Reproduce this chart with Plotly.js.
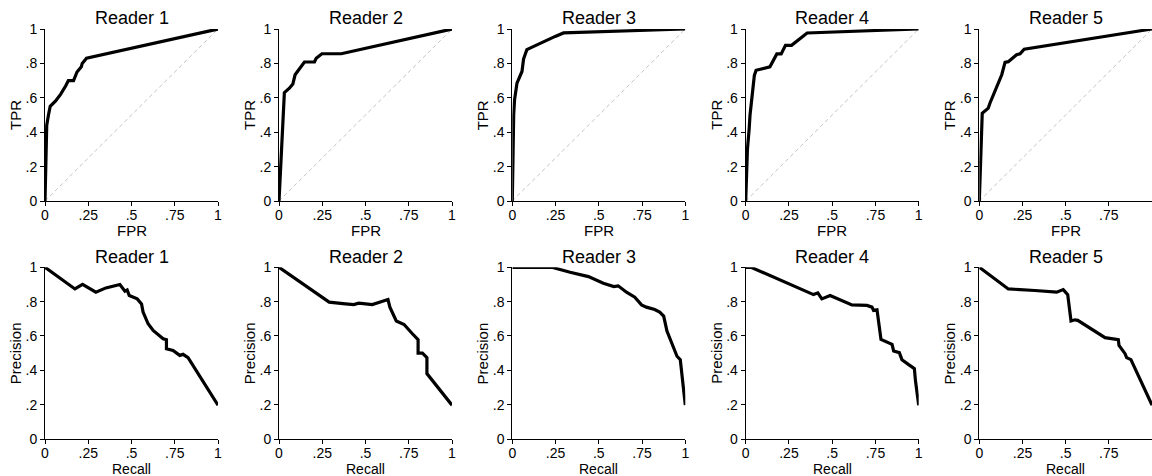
<!DOCTYPE html>
<html>
<head>
<meta charset="utf-8">
<script src="https://cdn.plot.ly/plotly-3.0.1.min.js"></script>
<style>
html,body{margin:0;padding:0;background:#fff;}
#chart{width:1152px;height:476px;}
</style>
</head>
<body>
<div id="chart"></div>
<script>
// ---- Data ----
const readers = ["Reader 1", "Reader 2", "Reader 3", "Reader 4", "Reader 5"];
const xTickVals = [0, 0.25, 0.5, 0.75, 1];
const xTickText = ["0", ".25", ".5", ".75", "1"];
const yTickVals = [0, 0.2, 0.4, 0.6, 0.8, 1];
const yTickText = ["0", ".2", ".4", ".6", ".8", "1"];
const diagX = [0, 1];
const diagY = [0, 1];

// ROC curves (FPR, TPR)
const roc1x = [0, 0.004, 0.006, 0.01, 0.02, 0.03, 0.06, 0.09, 0.12, 0.135, 0.165, 0.185, 0.21, 0.215, 0.24, 1];
const roc1y = [0, 0.2, 0.42, 0.44, 0.5, 0.55, 0.58, 0.62, 0.67, 0.70, 0.70, 0.75, 0.78, 0.80, 0.83, 1];
const roc2x = [0, 0.01, 0.031, 0.06, 0.08, 0.093, 0.122, 0.147, 0.205, 0.215, 0.248, 0.36, 1];
const roc2y = [0, 0.2, 0.63, 0.656, 0.68, 0.734, 0.77, 0.808, 0.808, 0.83, 0.856, 0.856, 1];
const roc3x = [0, 0.004, 0.008, 0.013, 0.027, 0.056, 0.065, 0.084, 0.18, 0.248, 0.296, 1];
const roc3y = [0, 0.394, 0.5, 0.588, 0.685, 0.753, 0.825, 0.88, 0.928, 0.957, 0.977, 1];
const roc4x = [0, 0.01, 0.02, 0.025, 0.05, 0.06, 0.14, 0.18, 0.205, 0.23, 0.265, 0.355, 1];
const roc4y = [0, 0.3, 0.42, 0.5, 0.73, 0.76, 0.78, 0.855, 0.855, 0.905, 0.905, 0.977, 1];
const roc5x = [0, 0.01, 0.017, 0.052, 0.062, 0.13, 0.149, 0.168, 0.216, 0.236, 0.26, 1];
const roc5y = [0, 0.3, 0.51, 0.54, 0.57, 0.734, 0.806, 0.81, 0.85, 0.856, 0.883, 1];

// Precision-recall curves (Recall, Precision)
const pr1x = [0, 0.173, 0.217, 0.294, 0.352, 0.433, 0.462, 0.475, 0.487, 0.51, 0.533, 0.558, 0.567, 0.596, 0.625, 0.683, 0.702, 0.702, 0.74, 0.779, 0.798, 0.827, 1];
const pr1y = [1, 0.874, 0.9, 0.855, 0.88, 0.9, 0.861, 0.868, 0.836, 0.826, 0.816, 0.787, 0.739, 0.671, 0.632, 0.584, 0.578, 0.526, 0.516, 0.487, 0.493, 0.474, 0.197];
const pr2x = [0, 0.29, 0.384, 0.432, 0.461, 0.539, 0.63, 0.641, 0.678, 0.723, 0.771, 0.804, 0.804, 0.829, 0.855, 0.855, 1];
const pr2y = [1, 0.797, 0.787, 0.783, 0.791, 0.783, 0.812, 0.768, 0.687, 0.667, 0.613, 0.578, 0.5, 0.5, 0.474, 0.381, 0.197];
const pr3x = [0, 0.228, 0.334, 0.44, 0.526, 0.587, 0.612, 0.66, 0.708, 0.747, 0.775, 0.823, 0.852, 0.875, 0.894, 0.939, 0.952, 0.971, 0.979, 0.99, 1];
const pr3y = [1, 1, 0.971, 0.946, 0.907, 0.888, 0.892, 0.855, 0.826, 0.781, 0.768, 0.754, 0.739, 0.716, 0.629, 0.507, 0.482, 0.462, 0.381, 0.284, 0.197];
const pr4x = [0, 0.031, 0.392, 0.417, 0.44, 0.488, 0.614, 0.701, 0.73, 0.739, 0.759, 0.782, 0.846, 0.855, 0.888, 0.903, 0.942, 0.975, 0.981, 1];
const pr4y = [1, 1, 0.841, 0.851, 0.816, 0.836, 0.781, 0.778, 0.768, 0.749, 0.752, 0.58, 0.551, 0.513, 0.503, 0.462, 0.433, 0.41, 0.342, 0.197];
const pr5x = [0, 0.168, 0.322, 0.448, 0.486, 0.512, 0.531, 0.554, 0.57, 0.728, 0.805, 0.809, 0.844, 0.853, 0.878, 1];
const pr5y = [1, 0.874, 0.865, 0.855, 0.87, 0.841, 0.687, 0.694, 0.691, 0.59, 0.578, 0.545, 0.497, 0.474, 0.462, 0.197];

const rocX = [roc1x, roc2x, roc3x, roc4x, roc5x];
const rocY = [roc1y, roc2y, roc3y, roc4y, roc5y];
const prX = [pr1x, pr2x, pr3x, pr4x, pr5x];
const prY = [pr1y, pr2y, pr3y, pr4y, pr5y];
const rowXTitles = ["FPR", "Recall"];
const rowYTitles = ["TPR", "Precision"];

// ---- Layout geometry ----
const W = 1152, H = 476;
const panelLeft = [45, 279, 512.3, 745.7, 979.3];
const panelW = 173;
const rowPx = [[29, 201], [267.3, 439]];   // pixel y of value 1 and value 0
const titleY = [18.5, 256.5];
const xTitleY = [230, 468.5];
const xTitleSize = [15, 14];
const xLabelStandoff = [-3, -3];

const FONT = "Liberation Sans, Arial, Helvetica, sans-serif";
const traces = [];
const layout = {
  width: W, height: H,
  margin: {l: 0, r: 0, t: 0, b: 0},
  paper_bgcolor: "#ffffff",
  plot_bgcolor: "#ffffff",
  showlegend: false,
  font: {family: FONT, size: 14, color: "#000"},
  annotations: []
};

function baseAxis(domain, anchor, vals, text, standoff) {
  return {
    domain: domain, anchor: anchor, range: [0, 1], fixedrange: true,
    showline: true, linecolor: "#000", linewidth: 1,
    showgrid: false, zeroline: false,
    ticks: "outside", ticklen: 4, tickcolor: "#000", tickwidth: 1,
    tickvals: vals, ticktext: text, ticklabelstandoff: standoff,
    tickfont: {family: FONT, size: 14, color: "#000"}
  };
}

for (let r = 0; r < 2; r++) {
  const yDom = [1 - rowPx[r][1] / H, 1 - rowPx[r][0] / H];
  const midY = (rowPx[r][0] + rowPx[r][1]) / 2;
  for (let i = 0; i < 5; i++) {
    const n = r * 5 + i + 1;
    const xa = n === 1 ? "x" : "x" + n;
    const ya = n === 1 ? "y" : "y" + n;
    const xDom = [panelLeft[i] / W, Math.min(1, (panelLeft[i] + panelW) / W)];
    layout[n === 1 ? "xaxis" : "xaxis" + n] = baseAxis(xDom, ya, xTickVals, xTickText, xLabelStandoff[r]);
    layout[n === 1 ? "yaxis" : "yaxis" + n] = baseAxis(yDom, xa, yTickVals, yTickText, 0);
    if (r === 0) {
      traces.push({x: diagX, y: diagY, xaxis: xa, yaxis: ya, mode: "lines",
        line: {color: "#c4c4c4", width: 1, dash: "4px,3px"}, hoverinfo: "skip"});
      traces.push({x: rocX[i], y: rocY[i], xaxis: xa, yaxis: ya, mode: "lines",
        line: {color: "#000", width: 3.2}, name: readers[i]});
    } else {
      traces.push({x: prX[i], y: prY[i], xaxis: xa, yaxis: ya, mode: "lines",
        line: {color: "#000", width: 3.2}, name: readers[i]});
    }
    // panel title
    layout.annotations.push({
      text: readers[i], showarrow: false, xref: "paper", yref: "paper",
      x: (panelLeft[i] + panelW / 2) / W, y: 1 - titleY[r] / H,
      xanchor: "center", yanchor: "middle",
      font: {family: FONT, size: 18, color: "#000"}
    });
    // x-axis title
    layout.annotations.push({
      text: rowXTitles[r], showarrow: false, xref: "paper", yref: "paper",
      x: (panelLeft[i] + panelW / 2) / W, y: 1 - xTitleY[r] / H,
      xanchor: "center", yanchor: "middle", borderpad: 0,
      font: {family: FONT, size: xTitleSize[r], color: "#000"}
    });
    // y-axis title
    layout.annotations.push({
      text: rowYTitles[r], showarrow: false, xref: "paper", yref: "paper",
      x: (panelLeft[i] - 30) / W, y: 1 - midY / H,
      xanchor: "center", yanchor: "middle", textangle: -90, borderpad: 0,
      font: {family: FONT, size: 15, color: "#000"}
    });
  }
}

Plotly.newPlot("chart", traces, layout, {staticPlot: true, displayModeBar: false});
</script>
</body>
</html>
